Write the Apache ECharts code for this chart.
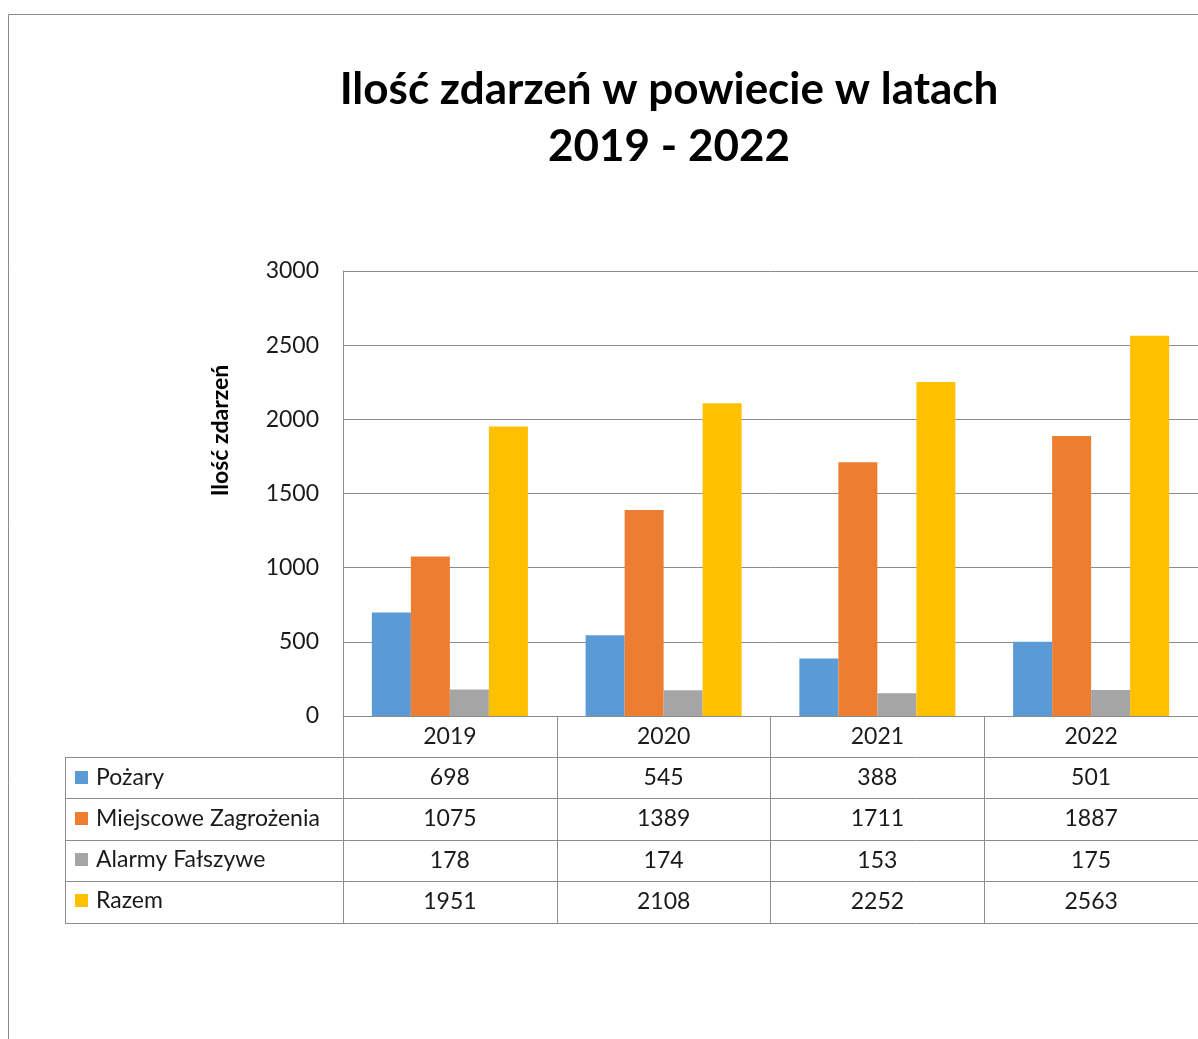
<!DOCTYPE html>
<html>
<head>
<meta charset="utf-8">
<script src="https://cdn.jsdelivr.net/npm/echarts@6/dist/echarts.min.js"></script>
<style>
  html, body { margin: 0; padding: 0; background: #fff; }
  #chart { width: 1198px; height: 1039px; }
</style>
</head>
<body>
<div id="chart"></div>
<script>
// data
const years = ['2019', '2020', '2021', '2022'];
const seriesNames = ['Pożary', 'Miejscowe Zagrożenia', 'Alarmy Fałszywe', 'Razem'];
const pozary = [698, 545, 388, 501];
const miejscowe = [1075, 1389, 1711, 1887];
const alarmy = [178, 174, 153, 175];
const razem = [1951, 2108, 2252, 2563];
const colors = ['#5B9BD5', '#ED7D31', '#A5A5A5', '#FFC000'];
const yTicks = { min: 0, max: 3000, interval: 500 };

const allSeries = [pozary, miejscowe, alarmy, razem];

// layout
const FONT = 'Lato, "Open Sans", sans-serif';
const gridLeft = 343, gridTop = 271, gridW = 856, gridH = 445;
const rowH = [41, 41, 42, 41, 42];   // header + 4 rows of the data table
const lineCol = '#8c8c8c';
const textCol = '#1a1a1a';
const fs = 23;

let ec = echarts.init(document.getElementById('chart'));

// extra axes = the rows of the data table
let xAxes = [{
    type: 'category', data: years, gridIndex: 0, position: 'bottom',
    axisLine: { lineStyle: { color: lineCol } },
    axisTick: { show: true, length: rowH.reduce((a, b) => a + b, 0), lineStyle: { color: lineCol } },
    axisLabel: { margin: 0, fontSize: fs, lineHeight: rowH[0], color: textCol, fontFamily: FONT }
}];
let off = rowH[0];
allSeries.forEach((vals, k) => {
    xAxes.push({
        type: 'category', data: years, gridIndex: 0, position: 'bottom', offset: off,
        axisLine: { show: false }, axisTick: { show: false }, splitLine: { show: false },
        axisLabel: {
            margin: 0, fontSize: fs, lineHeight: rowH[k + 1], color: textCol, fontFamily: FONT,
            formatter: (v, i) => String(vals[i])
        }
    });
    off += rowH[k + 1];
});

// horizontal table lines
let graphics = [{
    type: 'rect', shape: { x: 8.5, y: 14.5, width: 1400, height: 1200 },
    style: { fill: 'none', stroke: '#8a8a8a', lineWidth: 1 }, silent: true
}];
let y = gridTop + gridH + rowH[0];
for (let k = 0; k < 5; k++) {
    graphics.push({
        type: 'line', shape: { x1: 65, y1: y + 0.5, x2: gridLeft + gridW, y2: y + 0.5 },
        style: { stroke: lineCol, lineWidth: 1 }, silent: true
    });
    if (k < 4) y += rowH[k + 1];
}
graphics.push({
    type: 'line', shape: { x1: 65.5, y1: gridTop + gridH + rowH[0], x2: 65.5, y2: y },
    style: { stroke: lineCol, lineWidth: 1 }, silent: true
});

let option = {
    animation: false,
    backgroundColor: '#fff',
    color: colors,
    title: {
        text: 'Ilość zdarzeń w powiecie w latach\n2019 - 2022',
        left: 669, top: 61, padding: 0, textAlign: 'center',
        textStyle: { fontFamily: FONT, fontSize: 44, fontWeight: 'bold', color: '#000', lineHeight: 57 }
    },
    legend: {
        orient: 'vertical', left: 75, top: 766, padding: 0, selectedMode: false,
        icon: 'rect', itemWidth: 13, itemHeight: 13, itemGap: 18,
        data: seriesNames,
        textStyle: { fontFamily: FONT, fontSize: fs, lineHeight: 23, color: textCol, padding: [0, 0, 0, 3] }
    },
    grid: { left: gridLeft, top: gridTop, width: gridW, height: gridH, containLabel: false },
    xAxis: xAxes,
    yAxis: {
        type: 'value', min: yTicks.min, max: yTicks.max, interval: yTicks.interval,
        name: 'Ilość zdarzeń', nameLocation: 'middle', nameRotate: 90, nameGap: 111,
        nameTextStyle: { fontFamily: FONT, fontSize: 23, fontWeight: 'bold', color: '#000', padding: [0, 0, 0, 126] },
        axisLine: { show: true, lineStyle: { color: lineCol } },
        axisTick: { show: false },
        splitLine: { lineStyle: { color: lineCol } },
        axisLabel: { margin: 24, fontSize: fs, color: textCol, fontFamily: FONT, formatter: v => String(v) }
    },
    graphic: graphics,
    series: allSeries.map((vals, k) => ({
        name: seriesNames[k], type: 'bar', xAxisIndex: 0, data: vals,
        barGap: '0%', barCategoryGap: '27%'
    }))
};
ec.setOption(option);
</script>
</body>
</html>
